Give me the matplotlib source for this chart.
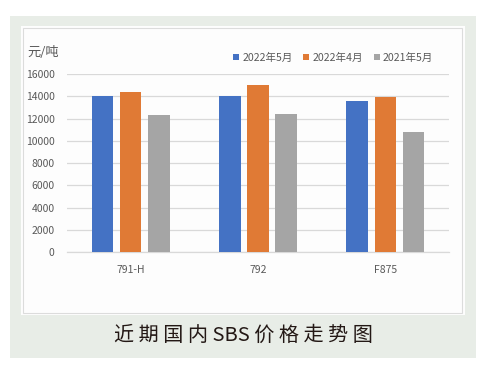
import matplotlib
matplotlib.use("Agg")
import matplotlib.pyplot as plt
from matplotlib.patches import Rectangle
import numpy as np

plt.rcParams['font.family'] = ['Noto Sans CJK SC', 'DejaVu Sans']

categories = ["791-H", "792", "F875"]
series_names = ["2022年5月", "2022年4月", "2021年5月"]
may_2022 = [14000, 14000, 13600]
apr_2022 = [14400, 15000, 13900]
may_2021 = [12300, 12400, 10800]
yticks = [0, 2000, 4000, 6000, 8000, 10000, 12000, 14000, 16000]
colors = ["#4472C4", "#E07A35", "#A5A5A5"]

W, H = 491, 368
fig = plt.figure(figsize=(W / 100, H / 100), dpi=100)
fig.patch.set_facecolor("white")

def rect(x0, y0, x1, y1, **kw):
    fig.patches.append(Rectangle((x0 / W, 1 - y1 / H), (x1 - x0) / W, (y1 - y0) / H,
                                 transform=fig.transFigure, figure=fig, **kw))

rect(10, 16, 476, 358, facecolor="#E8EDE7", edgecolor="none", zorder=-3)
rect(21, 26, 465, 315, facecolor="#FDFDFD", edgecolor="none", zorder=-2)
rect(23, 28, 462, 313, facecolor="none", edgecolor="#DCDCDC", linewidth=0.8, zorder=-1)

# plot area: x 67-449, y 74 (16000) - 252.3 (0)
ax = fig.add_axes([67 / W, 1 - 252.3 / H, (449 - 67) / W, (252.3 - 74) / H])
ax.set_zorder(1)
ax.set_facecolor("none")
x = np.arange(len(categories))
bw = 0.17
step = 0.22
for i, (vals, name) in enumerate(zip([may_2022, apr_2022, may_2021], series_names)):
    ax.bar(x + (i - 1) * step, vals, width=bw, color=colors[i], label=name, zorder=3)

ax.set_xlim(-0.5, len(categories) - 0.5)
ax.set_ylim(0, 16000)
ax.set_yticks(yticks)
ax.set_yticklabels([str(v) for v in yticks])
ax.set_xticks(x)
ax.set_xticklabels(categories)
ax.tick_params(axis='both', length=0, labelsize=7.5, colors="#595959")
ax.tick_params(axis='y', pad=9)
ax.tick_params(axis='x', pad=9)
ax.grid(axis='y', color="#D9D9D9", linewidth=0.9, zorder=0)
for s in ["top", "right", "left"]:
    ax.spines[s].set_visible(False)
ax.spines["bottom"].set_color("#D9D9D9")
ax.spines["bottom"].set_linewidth(0.9)

fig.text(27 / W, 1 - 53 / H, "元/吨", fontsize=9.5, color="#595959", va="center", ha="left")

leg = fig.legend(loc="center", bbox_to_anchor=(333 / W, 1 - 57.5 / H), ncol=3, frameon=False,
                 fontsize=7.6, handlelength=0.6, handleheight=0.6, handletextpad=0.3,
                 columnspacing=1.0, labelcolor="#595959")

fig.text(243 / W, 1 - 335 / H, "近 期 国 内 SBS 价 格 走 势 图", fontsize=14.5, color="#231815",
         ha="center", va="center")

fig.savefig("out.png", dpi=100, facecolor=fig.get_facecolor())
